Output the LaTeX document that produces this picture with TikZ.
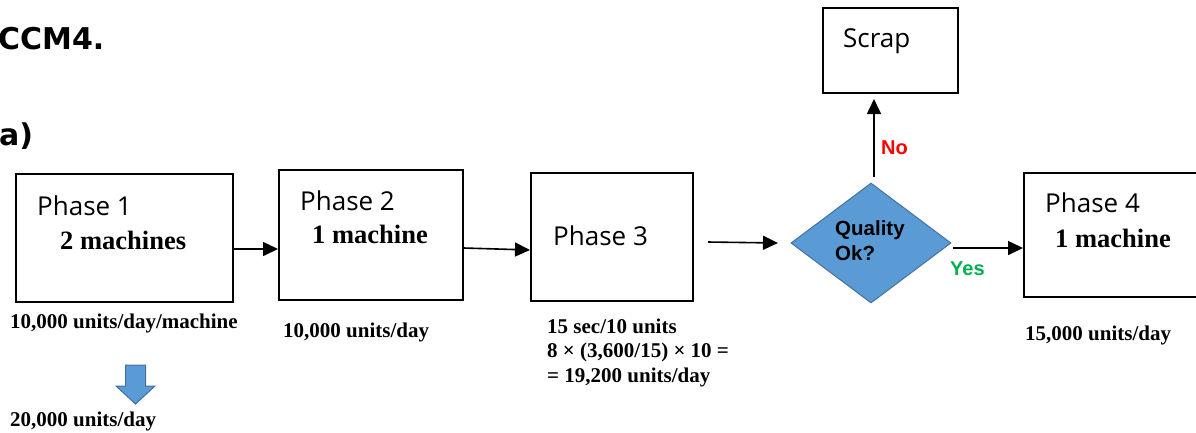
\documentclass[tikz,border=0pt]{standalone}
\usepackage{fontspec}
\usetikzlibrary{arrows.meta,shapes.geometric}
\newfontfamily\headfont{DejaVu Sans}
\newfontfamily\phfont{Open Sans}
\newfontfamily\tmfont{Liberation Serif}
\newfontfamily\arfont{Liberation Sans}
\definecolor{dblue}{HTML}{5B9BD5}
\definecolor{dblueb}{HTML}{41719C}
\definecolor{yesgreen}{HTML}{00B050}
\tikzset{
  box/.style={draw=black, line width=1.8pt, rectangle, inner sep=0pt, anchor=north west},
  lbl/.style={anchor=base west, inner sep=0pt},
  ph/.style={lbl, font=\phfont\fontsize{26}{30}\selectfont},
  mach/.style={lbl, font=\tmfont\bfseries\fontsize{26.5}{30}\selectfont},
  rate/.style={lbl, font=\tmfont\bfseries\fontsize{21}{24.5}\selectfont, align=left},
  flow/.style={line width=1.6pt, -{Triangle[length=15pt,width=14pt]}},
  yn/.style={lbl, font=\arfont\bfseries\fontsize{20}{24}\selectfont}
}
\begin{document}
\begin{tikzpicture}[x=1pt,y=-1pt]
\clip (0,0) rectangle (1196,432);
\fill[white] (0,0) rectangle (1196,432);
% headings
\node[lbl, font=\headfont\bfseries\fontsize{30}{36}\selectfont] (h1) at (-2,49) {CCM4.};
\node[lbl, font=\headfont\bfseries\fontsize{30}{36}\selectfont] (h2) at (-1,145) {a)};
% boxes
\node[box, minimum width=217pt, minimum height=128pt] (p1) at (15,173) {};
\node[box, minimum width=184pt, minimum height=130pt] (p2) at (278,169) {};
\node[box, minimum width=162pt, minimum height=128pt] (p3) at (530,172) {};
\node[box, minimum width=135pt, minimum height=85pt] (scrap) at (822,7) {};
\node[box, minimum width=200pt, minimum height=124pt] (p4) at (1023,172) {};
% diamond
\node[diamond, fill=dblue, draw=dblueb, line width=1pt, minimum width=160pt, minimum height=120pt, inner sep=0pt, aspect=1.333] (q) at (871,243) {};
% box texts
\node[ph] (t1) at (37,215) {Phase 1};
\node[mach] (m1) at (60,249) {2 machines};
\node[ph] (t2) at (300,210) {Phase 2};
\node[mach] (m2) at (312,243) {1 machine};
\node[ph] (t3) at (553,245) {Phase 3};
\node[ph] (ts) at (843,47) {Scrap};
\node[ph] (t4) at (1045,212) {Phase 4};
\node[mach] (m4) at (1055,247) {1 machine};
\node[lbl, font=\arfont\bfseries\fontsize{20.5}{25}\selectfont, align=left] (qt) at (835,260) {Quality\\Ok?};
% rates
\node[rate] (r1) at (10,328) {10,000 units/day/machine};
\node[rate] (r2) at (283,337) {10,000 units/day};
\node[rate] (r3) at (547,382) {15 sec/10 units\\8 × (3,600/15) × 10 =\\= 19,200 units/day};
\node[rate] (r4) at (1025,340) {15,000 units/day};
\node[rate] (r5) at (10,426) {20,000 units/day};
% block arrow (down)
\filldraw[fill=dblue, draw=dblueb, line width=1pt]
  (125.5,365) -- (145.5,365) -- (145.5,386) -- (155,386) -- (135.5,404) -- (116,386) -- (125.5,386) -- cycle;
% connectors
\draw[flow] (p1.east |- 0,249) -- (p2.west |- 0,249);
\draw[flow] (p2.east |- 0,248) -- (p3.west |- 0,250);
\coordinate (a3s) at (708,242);
\coordinate (a3e) at (778,243);
\draw[flow] (a3s) -- (a3e);
\coordinate (nos) at (874,177);
\draw[flow] (nos) -- (874,99);
\coordinate (yess) at (953,248);
\draw[flow] (yess) -- (p4.west |- 0,248);
\node[yn, text=red] (no) at (881,154) {No};
\node[yn, text=yesgreen] (yes) at (950,275) {Yes};
\end{tikzpicture}
\end{document}
